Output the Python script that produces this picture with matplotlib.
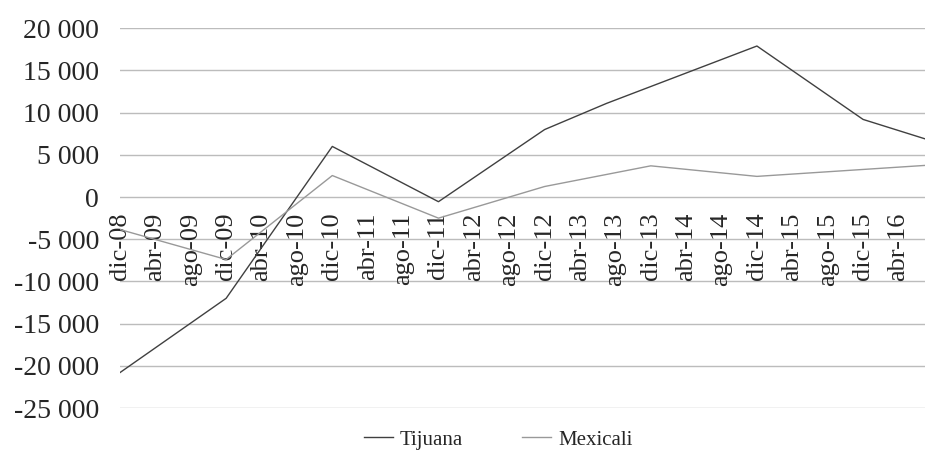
import numpy as np
import matplotlib
matplotlib.use('Agg')
import matplotlib.pyplot as plt
from matplotlib.ticker import FuncFormatter

# Months are counted from dic-08 (0) to jul-16 (91)
tick_labels = ['dic-08', 'abr-09', 'ago-09', 'dic-09', 'abr-10', 'ago-10',
               'dic-10', 'abr-11', 'ago-11', 'dic-11', 'abr-12', 'ago-12',
               'dic-12', 'abr-13', 'ago-13', 'dic-13', 'abr-14', 'ago-14',
               'dic-14', 'abr-15', 'ago-15', 'dic-15', 'abr-16']
last_month = 91

# Tijuana series (month index, value)
tij_month = [0, 12, 24, 36, 48, 55, 72, 84, 91]
tij_vals = [-20800, -12000, 6000, -550, 8000, 11100, 17900, 9200, 6900]

# Mexicali series
mex_month = [0, 12, 24, 36, 48, 60, 72, 91]
mex_vals = [-3850, -7400, 2550, -2500, 1250, 3700, 2450, 3750]

y_ticks = [20000, 15000, 10000, 5000, 0, -5000, -10000, -15000, -20000, -25000]

plt.rcParams['font.family'] = ['Liberation Serif', 'DejaVu Serif']

W, H = 927, 453
fig = plt.figure(figsize=(W / 100, H / 100), dpi=100)
ax = fig.add_axes([120 / W, 1 - 408 / H, (925 - 120) / W, (408 - 28.3) / H])

# x axis sits at zero (set before ticks, it resets them)
ax.spines['bottom'].set_position(('data', 0))
for s in ax.spines.values():
    s.set_visible(False)

# Gridlines
for v in y_ticks:
    ax.axhline(v, color='#bcbcbc', lw=1.0, zorder=1)

ax.plot(tij_month, tij_vals, color='#404040', lw=1.0, label='Tijuana', zorder=3)
ax.plot(mex_month, mex_vals, color='#999999', lw=1.0, label='Mexicali', zorder=3)

ax.set_xlim(0, last_month)
ax.set_ylim(-25000, 20000)

# labels every 4 months
ax.set_xticks(np.arange(0, 4 * len(tick_labels), 4))
ax.set_xticklabels(tick_labels, rotation=90, fontsize=19, color='#262626')
ax.tick_params(axis='x', length=0, pad=11)

ax.set_yticks(y_ticks)
ax.yaxis.set_major_formatter(FuncFormatter(lambda v, p: f"{int(v):,}".replace(',', ' ')))
ax.tick_params(axis='y', length=0, pad=15, labelsize=20, labelcolor='#262626')

fig.legend(loc='center', bbox_to_anchor=(498 / W, 1 - 440 / H), ncol=2,
           frameon=False, fontsize=15, handlelength=1.4, handletextpad=0.35,
           columnspacing=2.8, labelcolor='#262626')

fig.savefig('out.png', dpi=100)
